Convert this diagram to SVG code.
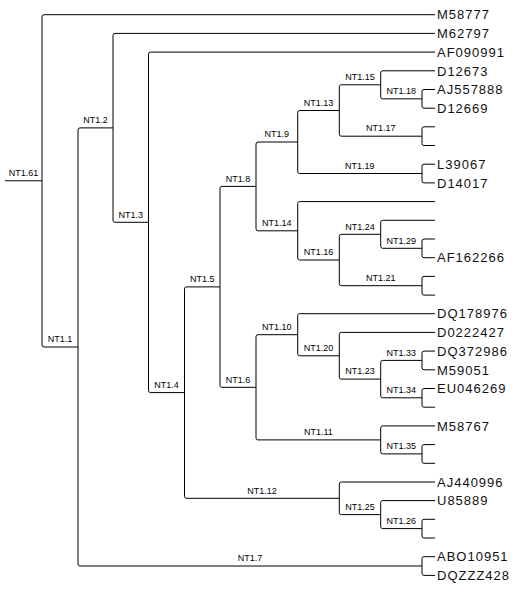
<svg xmlns="http://www.w3.org/2000/svg" width="522" height="597" viewBox="0 0 522 597">
<style>
.c{fill:none;stroke:#000;stroke-width:1}
.n{font-family:"Liberation Sans",Arial,sans-serif;font-size:9px;fill:#000;text-anchor:middle}
.l{font-family:"Liberation Sans",Arial,sans-serif;font-size:13px;fill:#111;letter-spacing:1px}
</style>
<rect width="522" height="597" fill="#fff"/>
<g id="connectors">
<path class="c" d="M5 180.8 H42"/>
<path class="c" d="M435 14.7 H44 Q42 14.7 42 16.7 V345 Q42 347 44 347 H78"/>
<path class="c" d="M113 127.9 H80 Q78 127.9 78 129.9 V564 Q78 566 80 566 H422"/>
<path class="c" d="M435 33.4 H115 Q113 33.4 113 35.4 V220.3 Q113 222.3 115 222.3 H148.5"/>
<path class="c" d="M435 52.1 H150.5 Q148.5 52.1 148.5 54.1 V390.6 Q148.5 392.6 150.5 392.6 H184.5"/>
<path class="c" d="M220 286.9 H186.5 Q184.5 286.9 184.5 288.9 V496.3 Q184.5 498.3 186.5 498.3 H339.3"/>
<path class="c" d="M256 186.4 H222 Q220 186.4 220 188.4 V385.3 Q220 387.3 222 387.3 H256"/>
<path class="c" d="M297.7 142 H258 Q256 142 256 144 V228.8 Q256 230.8 258 230.8 H297.7"/>
<path class="c" d="M339.3 110.5 H299.7 Q297.7 110.5 297.7 112.5 V171.5 Q297.7 173.5 299.7 173.5 H422"/>
<path class="c" d="M380.7 84.8 H341.3 Q339.3 84.8 339.3 86.8 V134.2 Q339.3 136.2 341.3 136.2 H422"/>
<path class="c" d="M435 70.8 H382.7 Q380.7 70.8 380.7 72.8 V96.85 Q380.7 98.85 382.7 98.85 H422"/>
<path class="c" d="M435 89.5 H424 Q422 89.5 422 91.5 V106.2 Q422 108.2 424 108.2 H435"/>
<path class="c" d="M435 126.8 H424 Q422 126.8 422 128.8 V143.5 Q422 145.5 424 145.5 H435"/>
<path class="c" d="M435 164.2 H424 Q422 164.2 422 166.2 V180.9 Q422 182.9 424 182.9 H435"/>
<path class="c" d="M435 201.6 H299.7 Q297.7 201.6 297.7 203.6 V258 Q297.7 260 299.7 260 H339.3"/>
<path class="c" d="M380.7 234.3 H341.3 Q339.3 234.3 339.3 236.3 V283.7 Q339.3 285.7 341.3 285.7 H422"/>
<path class="c" d="M435 220.3 H382.7 Q380.7 220.3 380.7 222.3 V246.3 Q380.7 248.3 382.7 248.3 H422"/>
<path class="c" d="M435 239 H424 Q422 239 422 241 V255.7 Q422 257.7 424 257.7 H435"/>
<path class="c" d="M435 276.4 H424 Q422 276.4 422 278.4 V293.1 Q422 295.1 424 295.1 H435"/>
<path class="c" d="M297.7 334.7 H258 Q256 334.7 256 336.7 V437.9 Q256 439.9 258 439.9 H380.7"/>
<path class="c" d="M435 313.7 H299.7 Q297.7 313.7 297.7 315.7 V353.8 Q297.7 355.8 299.7 355.8 H339.3"/>
<path class="c" d="M435 332.4 H341.3 Q339.3 332.4 339.3 334.4 V377.1 Q339.3 379.1 341.3 379.1 H380.7"/>
<path class="c" d="M422 360.4 H382.7 Q380.7 360.4 380.7 362.4 V395.8 Q380.7 397.8 382.7 397.8 H422"/>
<path class="c" d="M435 351.1 H424 Q422 351.1 422 353.1 V367.8 Q422 369.8 424 369.8 H435"/>
<path class="c" d="M435 388.5 H424 Q422 388.5 422 390.5 V405.2 Q422 407.2 424 407.2 H435"/>
<path class="c" d="M435 425.9 H382.7 Q380.7 425.9 380.7 427.9 V451.9 Q380.7 453.9 382.7 453.9 H422"/>
<path class="c" d="M435 444.6 H424 Q422 444.6 422 446.6 V461.3 Q422 463.3 424 463.3 H435"/>
<path class="c" d="M435 482 H341.3 Q339.3 482 339.3 484 V512.6 Q339.3 514.6 341.3 514.6 H380.7"/>
<path class="c" d="M435 500.6 H382.7 Q380.7 500.6 380.7 502.6 V526.6 Q380.7 528.6 382.7 528.6 H422"/>
<path class="c" d="M435 519.3 H424 Q422 519.3 422 521.3 V536 Q422 538 424 538 H435"/>
<path class="c" d="M435 556.7 H424 Q422 556.7 422 558.7 V573.4 Q422 575.4 424 575.4 H435"/>
</g>
<g id="NT1.61"><text class="n" x="23.5" y="176">NT1.61</text></g>
<g id="NT1.1"><text class="n" x="60" y="342.2">NT1.1</text></g>
<g id="NT1.2"><text class="n" x="95.5" y="123.1">NT1.2</text></g>
<g id="NT1.3"><text class="n" x="130.75" y="217.5">NT1.3</text></g>
<g id="NT1.4"><text class="n" x="166.5" y="387.8">NT1.4</text></g>
<g id="NT1.5"><text class="n" x="202.25" y="282.1">NT1.5</text></g>
<g id="NT1.8"><text class="n" x="238" y="181.6">NT1.8</text></g>
<g id="NT1.6"><text class="n" x="238" y="382.5">NT1.6</text></g>
<g id="NT1.9"><text class="n" x="276.85" y="137.2">NT1.9</text></g>
<g id="NT1.14"><text class="n" x="276.85" y="226">NT1.14</text></g>
<g id="NT1.13"><text class="n" x="318.5" y="105.7">NT1.13</text></g>
<g id="NT1.19"><text class="n" x="359.85" y="168.7">NT1.19</text></g>
<g id="NT1.15"><text class="n" x="360" y="80">NT1.15</text></g>
<g id="NT1.17"><text class="n" x="380.65" y="131.4">NT1.17</text></g>
<g id="NT1.18"><text class="n" x="401.35" y="94.05">NT1.18</text></g>
<g id="NT1.16"><text class="n" x="318.5" y="255.2">NT1.16</text></g>
<g id="NT1.24"><text class="n" x="360" y="229.5">NT1.24</text></g>
<g id="NT1.21"><text class="n" x="380.65" y="280.9">NT1.21</text></g>
<g id="NT1.29"><text class="n" x="401.35" y="243.5">NT1.29</text></g>
<g id="NT1.10"><text class="n" x="276.85" y="329.9">NT1.10</text></g>
<g id="NT1.11"><text class="n" x="318.35" y="435.1">NT1.11</text></g>
<g id="NT1.20"><text class="n" x="318.5" y="351">NT1.20</text></g>
<g id="NT1.23"><text class="n" x="360" y="374.3">NT1.23</text></g>
<g id="NT1.33"><text class="n" x="401.35" y="355.6">NT1.33</text></g>
<g id="NT1.34"><text class="n" x="401.35" y="393">NT1.34</text></g>
<g id="NT1.35"><text class="n" x="401.35" y="449.1">NT1.35</text></g>
<g id="NT1.12"><text class="n" x="261.9" y="493.5">NT1.12</text></g>
<g id="NT1.25"><text class="n" x="360" y="509.8">NT1.25</text></g>
<g id="NT1.26"><text class="n" x="401.35" y="523.8">NT1.26</text></g>
<g id="NT1.7"><text class="n" x="250" y="561.2">NT1.7</text></g>
<g id="leaf-M58777"><text class="l" x="437" y="19.4">M58777</text></g>
<g id="leaf-M62797"><text class="l" x="437" y="38.1">M62797</text></g>
<g id="leaf-AF090991"><text class="l" x="437" y="56.8">AF090991</text></g>
<g id="leaf-D12673"><text class="l" x="437" y="75.5">D12673</text></g>
<g id="leaf-AJ557888"><text class="l" x="437" y="94.2">AJ557888</text></g>
<g id="leaf-D12669"><text class="l" x="437" y="112.9">D12669</text></g>
<g id="leaf-L39067"><text class="l" x="437" y="168.9">L39067</text></g>
<g id="leaf-D14017"><text class="l" x="437" y="187.6">D14017</text></g>
<g id="leaf-AF162266"><text class="l" x="437" y="262.4">AF162266</text></g>
<g id="leaf-DQ178976"><text class="l" x="437" y="318.4">DQ178976</text></g>
<g id="leaf-D0222427"><text class="l" x="437" y="337.1">D0222427</text></g>
<g id="leaf-DQ372986"><text class="l" x="437" y="355.8">DQ372986</text></g>
<g id="leaf-M59051"><text class="l" x="437" y="374.5">M59051</text></g>
<g id="leaf-EU046269"><text class="l" x="437" y="393.2">EU046269</text></g>
<g id="leaf-M58767"><text class="l" x="437" y="430.6">M58767</text></g>
<g id="leaf-AJ440996"><text class="l" x="437" y="486.7">AJ440996</text></g>
<g id="leaf-U85889"><text class="l" x="437" y="505.3">U85889</text></g>
<g id="leaf-ABO10951"><text class="l" x="437" y="561.4">ABO10951</text></g>
<g id="leaf-DQZZZ428"><text class="l" x="437" y="580.1">DQZZZ428</text></g>
</svg>
